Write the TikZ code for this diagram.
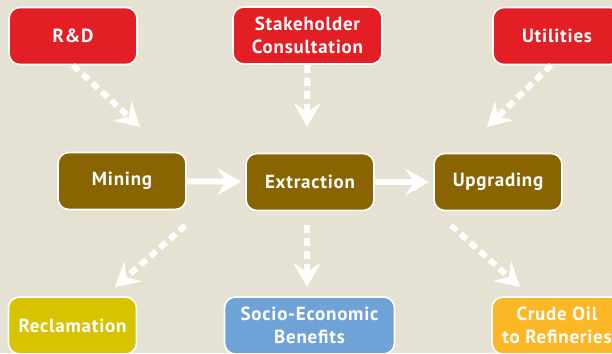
\documentclass[tikz,border=0pt]{standalone}
\usepackage{fontspec}
\setmainfont{PT Sans}[LetterSpace=4]
\usetikzlibrary{arrows.meta,positioning}
\definecolor{sandbg}{RGB}{229,226,211}
\definecolor{inputred}{RGB}{227,30,36}
\definecolor{stagebrown}{RGB}{138,100,0}
\definecolor{reclyellow}{RGB}{217,195,0}
\definecolor{benefitblue}{RGB}{111,163,216}
\definecolor{crudeorange}{RGB}{252,183,38}

\begin{document}
\begin{tikzpicture}[x=1pt,y=-1pt,
    boxstyle/.style={
      draw=white,
      line width=1.6pt,
      fill=#1,
      rounded corners=11pt,
      font={\fontsize{19}{23}\selectfont\bfseries\color{white}},
      align=center,
      inner sep=0pt,
      minimum height=57pt
    },
    box/.style={
      boxstyle=#1,
      minimum width=128pt},
    box/.default=stagebrown,
    flow/.style={draw=white, line width=6pt,
      -{Stealth[length=24pt,width=27pt,inset=9pt]}},
    feed/.style={flow, dash pattern=on 8pt off 5pt}
  ]

  \useasboundingbox (0,0) rectangle (612,353);
  \fill[sandbg] (0,0) rectangle (612,353);

  %% inputs
  \node[box=inputred] (rd) at (73,36) {R\&D};
  \node[boxstyle=inputred, minimum width=149pt] (stake) at (307.5,35.5) {Stakeholder\\Consultation};
  \node[box=inputred] (util) at (557,36) {Utilities};

  %% process chain
  \node[box] (mining) at (122,181) {Mining};
  \node[box] (extraction) at (310,182) {Extraction};
  \node[box] (upgrading) at (498,182) {Upgrading};

  %% outputs
  \node[box=reclyellow] (recl) at (72.5,325.5) {Reclamation};
  \node[boxstyle=benefitblue, minimum width=170pt] (socio) at (309.5,325.5) {Socio-Economic\\Benefits};
  \node[boxstyle=crudeorange, minimum width=130pt] (crude) at (557,325.5) {Crude Oil\\to Refineries};

  % arrow tips in the open
  \coordinate (rd-tip) at (140,127);
  \coordinate (stake-tip) at (307,127);
  \coordinate (util-tip) at (487,127);
  \coordinate (recl-tip) at (115,287);
  \coordinate (socio-tip) at (307,287);
  \coordinate (crude-tip) at (520,287);

  %% feeds in
  \draw[feed] (rd.south) -- (rd-tip);
  \draw[feed] (stake.south) -- (stake-tip);
  \draw[feed] ([xshift=-6pt]util.south) -- (util-tip);

  %% main flow
  \draw[flow, shorten >=4pt] (mining) -- (extraction);
  \draw[flow, shorten >=4pt] (extraction) -- (upgrading);

  %% results out
  \draw[feed, shorten <=23pt] ([xshift=16pt]mining.south east) -- (recl-tip);
  \draw[feed, shorten <=14pt] ([xshift=-3pt]extraction.south) -- (socio-tip);
  \draw[feed, shorten <=21pt] ([xshift=2pt]upgrading.south west) -- (crude-tip);

\end{tikzpicture}
\end{document}
